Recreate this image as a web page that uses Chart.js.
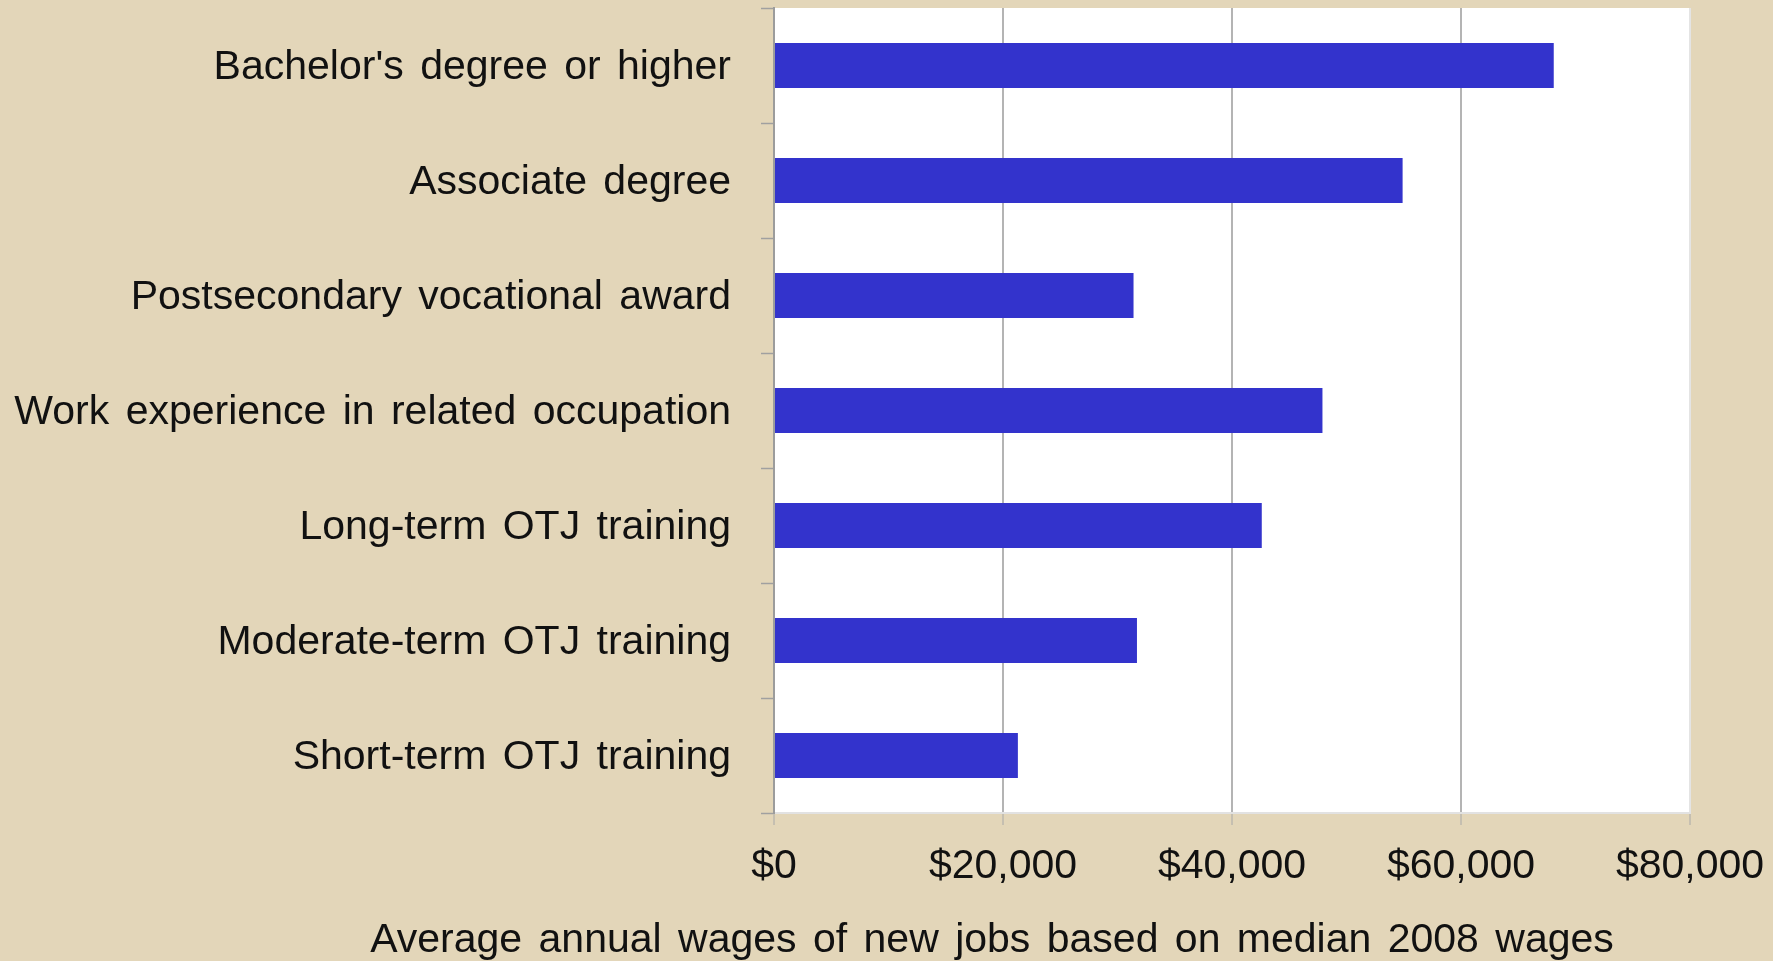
<!DOCTYPE html>
<html lang="en">

<head>
  <meta charset="UTF-8">
  <title>Average annual wages by education or training</title>
  <script src="https://cdn.jsdelivr.net/npm/chart.js"></script>
  <style>
    html, body { margin: 0; padding: 0; overflow: hidden; background: #e3d6b9; }
    #wrap { width: 1773px; height: 961px; }
  </style>
</head>

<body>

  <div id="wrap">
    <canvas id="wageChart" width="1773" height="961"></canvas>
  </div>

  <script>
    // values
    const categories = [
      "Bachelor's degree or higher",
      'Associate degree',
      'Postsecondary vocational award',
      'Work experience in related occupation',
      'Long-term OTJ training',
      'Moderate-term OTJ training',
      'Short-term OTJ training'
    ];
    const wages = [68100, 54900, 31400, 47900, 42600, 31700, 21300];
    const tickValues = [0, 20000, 40000, 60000, 80000];
    const axisTitle = 'Average annual wages of new jobs based on median 2008 wages';

    const FONT = "'Liberation Sans', Arial, sans-serif";

    // white plot area + wider word gaps like the original slide
    const plotBg = {
      id: 'plotBg',
      afterLayout(chart) {
        // the slide centres the axis title a bit right of the page middle
        if (chart.titleBlock) {
          chart.titleBlock.left = 0;
          chart.titleBlock.right = 1984;
        }
      },
      beforeDraw(chart) {
        const { ctx, chartArea: a } = chart;
        ctx.wordSpacing = '5px';
        ctx.save();
        ctx.fillStyle = '#ffffff';
        ctx.fillRect(a.left, a.top, a.right - a.left, a.bottom - a.top);
        ctx.restore();
      }
    };

    const ctx = document.getElementById('wageChart').getContext('2d');
    new Chart(ctx, {
      type: 'bar',
      data: {
        labels: categories,
        datasets: [{
          data: wages,
          backgroundColor: '#3333cc',
          borderWidth: 0,
          barPercentage: 0.39,
          categoryPercentage: 1
        }]
      },
      options: {
        indexAxis: 'y',
        responsive: false,
        animation: false,
        layout: { padding: { top: 8, right: 83, bottom: 0, left: 0 } },
        plugins: {
          legend: { display: false },
          tooltip: { enabled: false },
          title: {
            display: true,
            position: 'bottom',
            text: axisTitle,
            color: '#111',
            font: { family: FONT, size: 41, weight: 'normal', lineHeight: 1.0 },
            padding: 0
          }
        },
        scales: {
          x: {
            min: 0,
            max: 80000,
            afterBuildTicks(scale) {
              scale.ticks = tickValues.map(v => ({ value: v }));
            },
            afterFit(scale) {
              scale.height = 107;
              scale.paddingLeft = 0;
              scale.paddingRight = 0;
            },
            grid: {
              color: c => (c.tick && c.tick.value === 80000) ? '#e4e4e4' : '#b4b4b4',
              lineWidth: 2,
              tickLength: 12,
              tickColor: '#a8a8a8',
              tickWidth: 1
            },
            border: { display: true, color: '#e2e2e2', width: 2 },
            ticks: {
              color: '#111',
              padding: 17,
              font: { family: FONT, size: 41 },
              callback: v => '$' + v.toLocaleString('en-US')
            }
          },
          y: {
            afterFit(scale) {
              scale.width = 774;
              scale.paddingTop = 0;
              scale.paddingBottom = 0;
            },
            grid: {
              drawOnChartArea: false,
              tickLength: 13,
              tickColor: '#a0a0a0',
              tickWidth: 1.5
            },
            border: { display: true, color: '#9c9c9c', width: 2 },
            ticks: {
              color: '#111',
              padding: 30,
              labelOffset: 2,
              font: { family: FONT, size: 41 }
            }
          }
        }
      },
      plugins: [plotBg]
    });
  </script>

</body>

</html>
